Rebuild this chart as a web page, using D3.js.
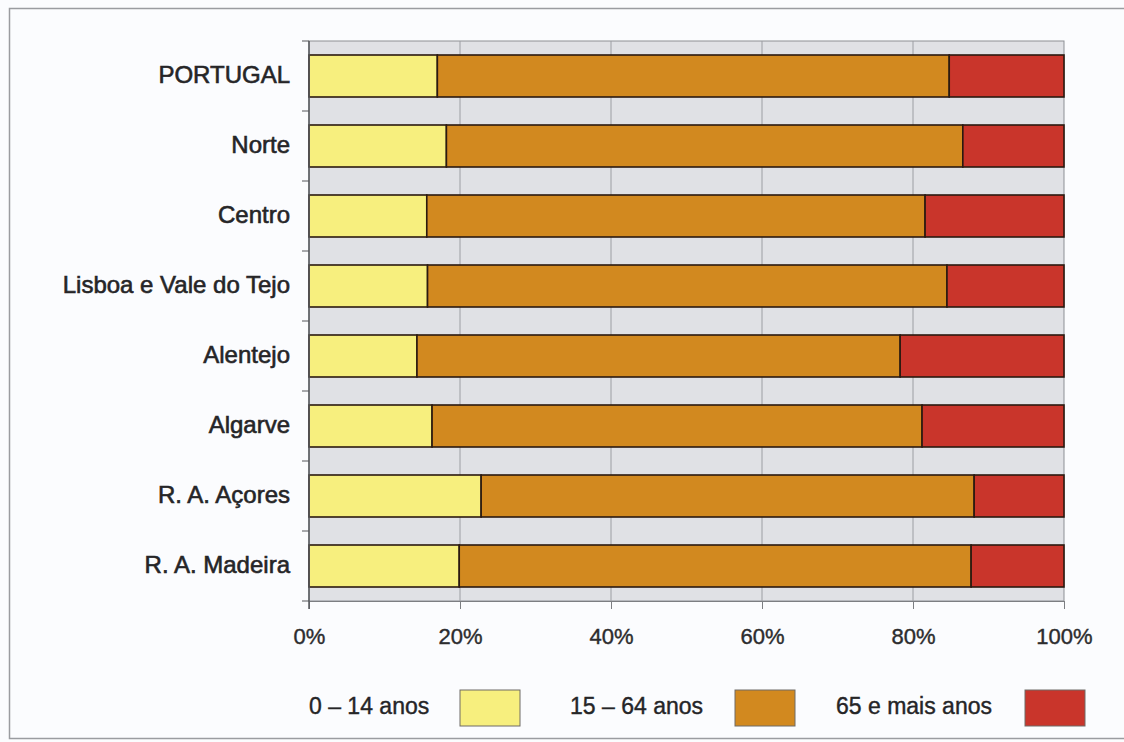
<!DOCTYPE html>
<html>
<head>
<meta charset="utf-8">
<script src="https://cdn.jsdelivr.net/npm/d3@7"></script>
<style>
  body { margin: 0; background: #fbfcfe; }
  text { font-family: Arial, "Liberation Sans", sans-serif; }
</style>
</head>
<body>
<svg id="chart"></svg>
<script>
// data (percent of population)
const regions = ['PORTUGAL', 'Norte', 'Centro', 'Lisboa e Vale do Tejo', 'Alentejo', 'Algarve', 'R. A. Açores', 'R. A. Madeira'];
const age0to14 = [17.0, 18.2, 15.6, 15.7, 14.3, 16.3, 22.8, 19.9];
const age15to64 = [67.8, 68.4, 66.0, 68.8, 64.0, 64.9, 65.3, 67.8];
const age65plus = [15.2, 13.4, 18.4, 15.5, 21.7, 18.8, 11.9, 12.3];
const groupLabels = ['0 – 14 anos', '15 – 64 anos', '65 e mais anos'];
const xTicks = [0, 20, 40, 60, 80, 100];

const colors = ['#f7ef7e', '#d2891f', '#c9352b'];

const width = 1124, height = 742;
const margin = { top: 41, right: 60, bottom: 141, left: 309 };

const svg = d3.select('#chart')
    .attr('width', width)
    .attr('height', height);

// outer frame
svg.append('rect')
    .attr('x', 9.5).attr('y', 8.5)
    .attr('width', width + 20).attr('height', 730)
    .attr('fill', 'none')
    .attr('stroke', '#9a9ca0')
    .attr('stroke-width', 1.5);

const rows = regions.map((r, i) => ({
    region: r, a: age0to14[i], b: age15to64[i], c: age65plus[i]
}));
const stacked = d3.stack().keys(['a', 'b', 'c'])(rows);

const x = d3.scaleLinear()
    .domain([0, 100])
    .range([margin.left, width - margin.right]);

const y = d3.scaleBand()
    .domain(regions)
    .range([margin.top, height - margin.bottom])
    .paddingInner(0.4)
    .paddingOuter(0.2);

const plotW = x(100) - x(0);
const plotH = y.range()[1] - y.range()[0];

// grey plot background
svg.append('rect')
    .attr('x', x(0)).attr('y', margin.top)
    .attr('width', plotW).attr('height', plotH)
    .attr('fill', '#e0e1e5')
    .attr('stroke', '#8d8f94')
    .attr('stroke-width', 1);

// vertical grid
svg.append('g')
    .selectAll('line')
    .data(xTicks.slice(1, -1))
    .join('line')
    .attr('x1', d => x(d)).attr('x2', d => x(d))
    .attr('y1', margin.top).attr('y2', margin.top + plotH)
    .attr('stroke', '#9c9ea3')
    .attr('stroke-width', 1);

// bars
svg.append('g')
    .selectAll('g')
    .data(stacked)
    .join('g')
    .attr('fill', (d, i) => colors[i])
    .selectAll('rect')
    .data(d => d)
    .join('rect')
    .attr('x', d => x(d[0]))
    .attr('y', d => y(d.data.region))
    .attr('width', d => x(d[1]) - x(d[0]))
    .attr('height', y.bandwidth())
    .attr('stroke', '#2b1a10')
    .attr('stroke-width', 1.6);

// x axis
const xAxis = d3.axisBottom(x)
    .tickValues(xTicks)
    .tickFormat(d => d + '%')
    .tickSize(8)
    .tickSizeOuter(0)
    .tickPadding(19);

svg.append('g')
    .attr('transform', `translate(0,${margin.top + plotH})`)
    .call(xAxis)
    .call(g => g.select('.domain').attr('stroke', '#7c7e82'))
    .call(g => g.selectAll('.tick line').attr('stroke', '#7c7e82'))
    .call(g => g.selectAll('.tick text')
        .attr('font-size', 22)
        .attr('fill', '#2c2c2e')
        .attr('stroke', '#2c2c2e')
        .attr('stroke-width', 0.4)
        .attr('font-family', 'Arial, "Liberation Sans", sans-serif'));

// y axis: line with ticks at band boundaries
const yAxisG = svg.append('g');
yAxisG.append('line')
    .attr('x1', x(0)).attr('x2', x(0))
    .attr('y1', margin.top).attr('y2', margin.top + plotH + 8)
    .attr('stroke', '#55575b')
    .attr('stroke-width', 1.5);
yAxisG.selectAll('.ytick')
    .data(d3.range(regions.length + 1))
    .join('line')
    .attr('class', 'ytick')
    .attr('x1', x(0) - 7).attr('x2', x(0))
    .attr('y1', i => margin.top + i * y.step())
    .attr('y2', i => margin.top + i * y.step())
    .attr('stroke', '#55575b');

yAxisG.selectAll('.ylabel')
    .data(regions)
    .join('text')
    .attr('class', 'ylabel')
    .attr('x', x(0) - 19)
    .attr('y', d => y(d) + y.bandwidth() / 2 - 1)
    .attr('dy', '0.35em')
    .attr('text-anchor', 'end')
    .attr('font-size', 24)
    .attr('fill', '#252527')
    .attr('stroke', '#252527')
    .attr('stroke-width', 0.6)
    .text(d => d);

// legend
const legendItems = [
    { label: groupLabels[0], tx: 309, bx: 460 },
    { label: groupLabels[1], tx: 570, bx: 735 },
    { label: groupLabels[2], tx: 836, bx: 1025 }
];
const legend = svg.append('g');
legend.selectAll('text')
    .data(legendItems)
    .join('text')
    .attr('x', d => d.tx)
    .attr('y', 706)
    .attr('dy', '0.35em')
    .attr('font-size', 23)
    .attr('fill', '#252527')
    .attr('stroke', '#252527')
    .attr('stroke-width', 0.4)
    .text(d => d.label);
legend.selectAll('rect')
    .data(legendItems)
    .join('rect')
    .attr('x', d => d.bx)
    .attr('y', 690)
    .attr('width', 60)
    .attr('height', 36)
    .attr('fill', (d, i) => colors[i])
    .attr('stroke', '#6e6a66')
    .attr('stroke-width', 1);
</script>
</body>
</html>
